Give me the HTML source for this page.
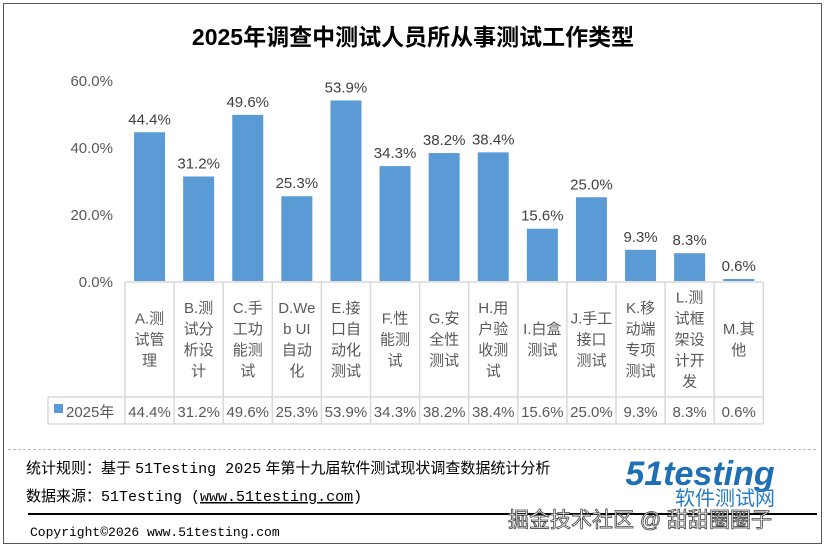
<!DOCTYPE html><html><head><meta charset="utf-8"><style>body{margin:0;background:#fff}svg{display:block}</style></head><body>
<svg width="827" height="548" xmlns="http://www.w3.org/2000/svg" font-family="Liberation Sans, Noto Sans CJK SC, sans-serif">
<rect x="3.5" y="3.5" width="818" height="540" fill="#fff" stroke="#555" stroke-width="1"/>
<text x="413" y="45" text-anchor="middle" font-size="23" font-weight="bold" fill="#000">2025年调查中测试人员所从事测试工作类型</text>
<g font-size="15" fill="#595959" text-anchor="end">
<text x="113" y="86">60.0%</text><text x="113" y="153">40.0%</text><text x="113" y="220">20.0%</text><text x="113" y="287">0.0%</text>
</g>
<g id="bars"></g>
<g stroke="#d9d9d9" stroke-width="1.5" fill="none" id="grid"></g>
<g id="tx"></g>
<line x1="8" y1="449.5" x2="817" y2="449.5" stroke="#bbb" stroke-dasharray="3,2"/>
<text x="26" y="473" font-size="15" fill="#000">统计规则：基于 <tspan font-family="Liberation Mono, monospace">51Testing 2025</tspan> 年第十九届软件测试现状调查数据统计分析</text>
<text x="26" y="501" font-size="15" fill="#000">数据来源：<tspan font-family="Liberation Mono, monospace">51Testing (<tspan text-decoration="underline">www.51testing.com</tspan>)</tspan></text>
<line x1="28" y1="514" x2="817" y2="514" stroke="#000" stroke-width="2"/>
<text x="30" y="536" font-size="13" font-family="Liberation Mono, monospace" fill="#000">Copyright©2026 www.51testing.com</text>
<text x="700" y="485" font-size="34" font-weight="bold" font-style="italic" fill="#1f6fb5" text-anchor="middle">51testing</text>
<text x="725" y="505" font-size="20" fill="#2a7cc0" text-anchor="middle">软件测试网</text>
<text x="640" y="527" font-size="21" fill="#fff" stroke="#444" stroke-width="0.8" text-anchor="middle">掘金技术社区 @ 甜甜圈圈子</text>
</svg>
<script>
const v=[44.4,31.2,49.6,25.3,53.9,34.3,38.2,38.4,15.6,25.0,9.3,8.3,0.6];
const lab=[["A.测","试管","理"],["B.测","试分","析设","计"],["C.手","工功","能测","试"],["D.We","b UI","自动","化"],["E.接","口自","动化","测试"],["F.性","能测","试"],["G.安","全性","测试"],["H.用","户验","收测","试"],["I.白盒","测试"],["J.手工","接口","测试"],["K.移","动端","专项","测试"],["L.测","试框","架设","计开","发"],["M.其","他"]];
const ns="http://www.w3.org/2000/svg",x0=125,w=49.1,y0=281,k=3.35;
const B=document.getElementById("bars"),G=document.getElementById("grid"),T=document.getElementById("tx");
function el(p,t,a,s){const e=document.createElementNS(ns,t);for(const q in a)e.setAttribute(q,a[q]);if(s!=null)e.textContent=s;p.appendChild(e);return e}
v.forEach((d,i)=>{const cx=x0+w*i+w/2,h=d*k;
el(B,"rect",{x:cx-15.5,y:y0-h,width:31,height:h,fill:"#5b9bd5"});
el(T,"text",{x:cx,y:y0-h-8,"text-anchor":"middle","font-size":15,fill:"#404040"},d.toFixed(1)+"%");
el(T,"text",{x:cx,y:417,"text-anchor":"middle","font-size":15,fill:"#595959"},d.toFixed(1)+"%");
const L=lab[i],lh=21,top=340-(L.length*lh)/2+15;
L.forEach((s,j)=>el(T,"text",{x:cx,y:top+j*lh,"text-anchor":"middle","font-size":15,fill:"#595959"},s));
});
for(let i=0;i<=13;i++){const x=x0+w*i;el(G,"line",{x1:x,y1:282,x2:x,y2:424});}
el(G,"line",{x1:48,y1:397,x2:48,y2:424});
el(G,"line",{x1:x0,y1:282,x2:x0+13*w,y2:282});
el(G,"line",{x1:48,y1:397,x2:x0+13*w,y2:397});
el(G,"line",{x1:48,y1:424,x2:x0+13*w,y2:424});
el(T,"rect",{x:54,y:404,width:9,height:9,fill:"#5b9bd5"});
el(T,"text",{x:66,y:417,"font-size":15,fill:"#595959"},"2025年");
</script>
</body></html>
